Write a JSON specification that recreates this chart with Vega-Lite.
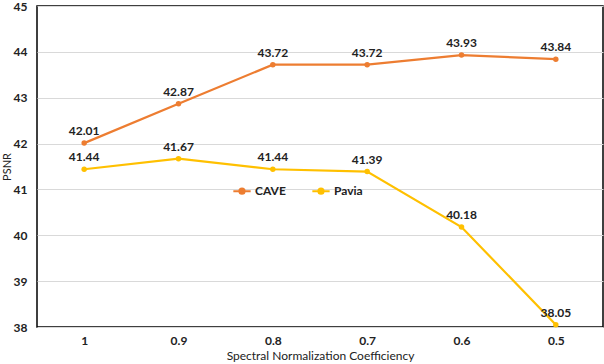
{
  "$schema": "https://vega.github.io/schema/vega-lite/v6.json",
  "width": 566,
  "height": 321,
  "autosize": {"type": "none"},
  "padding": {"left": 37, "top": 6, "right": 1, "bottom": 37},
  "background": "white",
  "config": {
    "font": "Lato",
    "view": {"stroke": "#000000", "strokeWidth": 1.5},
    "axis": {"labelFont": "Lato", "titleFont": "Lato"}
  },
  "data": {
    "values": [
      {"coef": "1", "series": "CAVE", "psnr": 42.01},
      {"coef": "0.9", "series": "CAVE", "psnr": 42.87},
      {"coef": "0.8", "series": "CAVE", "psnr": 43.72},
      {"coef": "0.7", "series": "CAVE", "psnr": 43.72},
      {"coef": "0.6", "series": "CAVE", "psnr": 43.93},
      {"coef": "0.5", "series": "CAVE", "psnr": 43.84},
      {"coef": "1", "series": "Pavia", "psnr": 41.44},
      {"coef": "0.9", "series": "Pavia", "psnr": 41.67},
      {"coef": "0.8", "series": "Pavia", "psnr": 41.44},
      {"coef": "0.7", "series": "Pavia", "psnr": 41.39},
      {"coef": "0.6", "series": "Pavia", "psnr": 40.18},
      {"coef": "0.5", "series": "Pavia", "psnr": 38.05}
    ]
  },
  "encoding": {
    "x": {
      "field": "coef", "type": "ordinal", "sort": null,
      "scale": {"type": "point", "padding": 0.5},
      "axis": {
        "title": "Spectral Normalization Coefficiency",
        "titleFontSize": 12, "titleFontWeight": "normal", "titleColor": "#222",
        "titlePadding": 4,
        "labelAngle": 0, "labelFontWeight": "bold", "labelFontSize": 12, "labelColor": "#222",
        "labelPadding": 8, "ticks": false, "domain": false, "grid": false
      }
    },
    "y": {
      "field": "psnr", "type": "quantitative",
      "scale": {"domain": [38, 45], "nice": false, "zero": false},
      "axis": {
        "title": "PSNR", "titleFontSize": 11, "titleFontWeight": "normal", "titleColor": "#222",
        "titlePadding": 1,
        "values": [38, 39, 40, 41, 42, 43, 44, 45],
        "labelFontWeight": "bold", "labelFontSize": 12, "labelColor": "#222",
        "labelPadding": 10, "ticks": false, "domain": false,
        "grid": true, "gridColor": "#d9d9d9", "gridWidth": 1
      }
    },
    "color": {
      "field": "series", "type": "nominal",
      "scale": {"domain": ["CAVE", "Pavia"], "range": ["#ED7D31", "#FFC000"]},
      "legend": {
        "title": null, "orient": "none", "direction": "horizontal",
        "legendX": 195, "legendY": 175,
        "labelFontSize": 12, "labelFontWeight": "bold", "labelColor": "#222",
        "symbolType": "M-1,0L1,0M-0.3,0A0.3,0.3,0,1,0,0.3,0A0.3,0.3,0,1,0,-0.3,0Z",
        "symbolSize": 300, "symbolStrokeWidth": 2, "columnPadding": 22, "labelOffset": 3
      }
    }
  },
  "layer": [
    {
      "mark": {"type": "line", "strokeWidth": 2.2, "point": {"filled": true, "size": 30}}
    },
    {
      "mark": {"type": "text", "dy": -12, "fontWeight": "bold", "fontSize": 12, "color": "#222"},
      "encoding": {
        "text": {"field": "psnr", "type": "quantitative", "format": ".2f"},
        "color": {"value": "#222"}
      }
    }
  ]
}
